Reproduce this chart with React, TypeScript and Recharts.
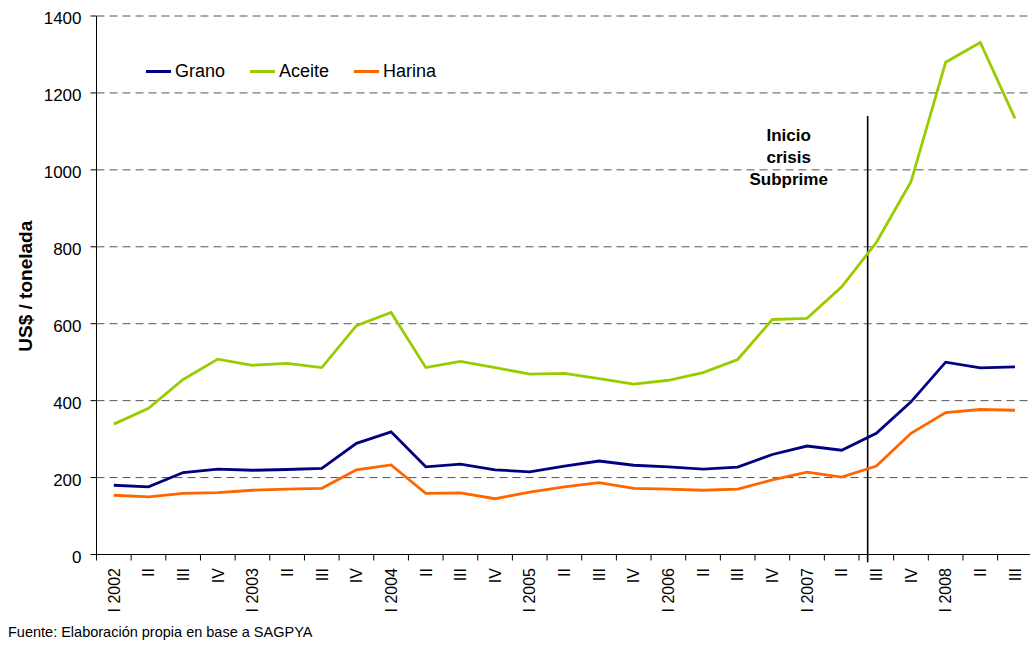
import React from 'react';
import { LineChart, Line, XAxis, YAxis, CartesianGrid, Legend, ReferenceLine } from 'recharts';

const FONT = '"Liberation Sans", Arial, Helvetica, sans-serif';

// quarters I 2002 .. III 2008
const QUARTERS = [
  'I 2002', 'II', 'III', 'IV',
  'I 2003', 'II', 'III', 'IV',
  'I 2004', 'II', 'III', 'IV',
  'I 2005', 'II', 'III', 'IV',
  'I 2006', 'II', 'III', 'IV',
  'I 2007', 'II', 'III', 'IV',
  'I 2008', 'II', 'III',
];

const GRANO = [180, 176, 213, 222, 219, 221, 224, 289, 319, 228, 235, 220, 215, 230, 243, 232, 228, 222, 227, 260, 282, 271, 315, 397, 500, 485, 488];
const ACEITE = [339, 380, 455, 508, 492, 497, 486, 595, 629, 486, 502, 486, 469, 471, 457, 443, 453, 473, 507, 611, 614, 696, 811, 969, 1280, 1331, 1134];
const HARINA = [154, 150, 159, 161, 167, 170, 172, 220, 233, 159, 160, 145, 162, 176, 187, 172, 170, 167, 170, 194, 214, 201, 230, 315, 369, 377, 375];

const SERIES = [
  { key: 'grano', name: 'Grano', color: '#000080' },
  { key: 'aceite', name: 'Aceite', color: '#99cc00' },
  { key: 'harina', name: 'Harina', color: '#ff6600' },
];

const Y_TICKS = [0, 200, 400, 600, 800, 1000, 1200, 1400];

// position of the "Inicio crisis Subprime" marker, in quarter units (between II and III 2007)
const CRISIS_X = 21.75;
const CRISIS_TOP = 1140;

const rows = QUARTERS.map((q, i) => ({ i, q, grano: GRANO[i], aceite: ACEITE[i], harina: HARINA[i] }));

// labels sit on the quarters, tick marks on the boundaries between them
const X_TICKS: number[] = [];
for (let k = 0; k <= QUARTERS.length * 2; k++) X_TICKS.push(k / 2 - 0.5);

const XTick = (props: any) => {
  const { x, y, payload } = props;
  const v = payload.value;
  if (!Number.isInteger(v)) {
    return <line x1={x} x2={x} y1={y} y2={y + 6} stroke="#000" strokeWidth={1} />;
  }
  const ty = y + 13.5;
  return (
    <text
      x={x}
      y={ty}
      dy="0.36em"
      transform={`rotate(-90, ${x}, ${ty})`}
      textAnchor="end"
      fontFamily={FONT}
      fontSize={16}
      fill="#000"
    >
      {QUARTERS[v]}
    </text>
  );
};

const CrisisLabel = (props: any) => {
  const { viewBox } = props;
  const cx = viewBox.x - 79;
  const top = viewBox.y;
  return (
    <text fontFamily={FONT} fontSize={17} fontWeight="bold" fill="#000" textAnchor="middle">
      <tspan x={cx} y={top + 25}>Inicio</tspan>
      <tspan x={cx} y={top + 47}>crisis</tspan>
      <tspan x={cx} y={top + 69}>Subprime</tspan>
    </text>
  );
};

const YLabel = (props: any) => {
  const { viewBox } = props;
  const x = 25;
  const y = viewBox.y + viewBox.height / 2 + 1;
  return (
    <text
      x={x}
      y={y}
      dy="0.36em"
      transform={`rotate(-90, ${x}, ${y})`}
      textAnchor="middle"
      fontFamily={FONT}
      fontSize={19}
      fontWeight="bold"
      fill="#000"
    >
      US$ / tonelada
    </text>
  );
};

const LegendContent = () => (
  <div style={{ display: 'flex', alignItems: 'center', fontFamily: FONT, fontSize: 18, color: '#000', whiteSpace: 'nowrap' }}>
    {SERIES.map((s) => (
      <div key={s.key} style={{ display: 'flex', alignItems: 'center', marginRight: 25 }}>
        <span style={{ display: 'inline-block', width: 25, height: 3, background: s.color, marginRight: 4 }} />
        <span>{s.name}</span>
      </div>
    ))}
  </div>
);

export default function App() {
  return (
    <div style={{ position: 'absolute', left: 0, top: 0, width: 1030, height: 647, overflow: 'hidden', background: '#fff' }}>
      <LineChart
        width={1040}
        height={647}
        data={rows}
        margin={{ top: 16, right: 7.7, bottom: 32.5, left: 36.5 }}
      >
        <CartesianGrid vertical={false} stroke="#555" strokeDasharray="8 5" />
        <XAxis
          dataKey="i"
          type="number"
          domain={[-0.5, QUARTERS.length - 0.5]}
          ticks={X_TICKS}
          interval={0}
          height={60}
          tickLine={false}
          tickSize={0}
          tickMargin={0}
          axisLine={{ stroke: '#000', strokeWidth: 1 }}
          tick={<XTick />}
        />
        <YAxis
          width={60}
          domain={[0, 1400]}
          ticks={Y_TICKS}
          interval={0}
          axisLine={{ stroke: '#000', strokeWidth: 1 }}
          tickLine={{ stroke: '#000' }}
          tickSize={6}
          tickMargin={9}
          tick={{ fill: '#000', fontSize: 17, fontFamily: FONT, dy: 2 }}
          label={<YLabel />}
        />
        <Legend
          layout="vertical"
          align="center"
          verticalAlign="middle"
          wrapperStyle={{ top: 61, left: 146, width: 'auto' }}
          content={<LegendContent />}
        />
        <ReferenceLine
          segment={[{ x: CRISIS_X, y: -20 }, { x: CRISIS_X, y: CRISIS_TOP }]}
          stroke="#000"
          strokeWidth={1.6}
          ifOverflow="visible"
          label={<CrisisLabel />}
        />
        {SERIES.map((s) => (
          <Line
            key={s.key}
            type="linear"
            dataKey={s.key}
            name={s.name}
            stroke={s.color}
            strokeWidth={2.8}
            dot={false}
            isAnimationActive={false}
          />
        ))}
      </LineChart>
      <div
        style={{
          position: 'absolute',
          left: 8,
          top: 624,
          fontFamily: FONT,
          fontSize: 14.5,
          lineHeight: '17px',
          color: '#000',
          whiteSpace: 'nowrap',
        }}
      >
        Fuente: Elaboración propia en base a SAGPYA
      </div>
    </div>
  );
}
